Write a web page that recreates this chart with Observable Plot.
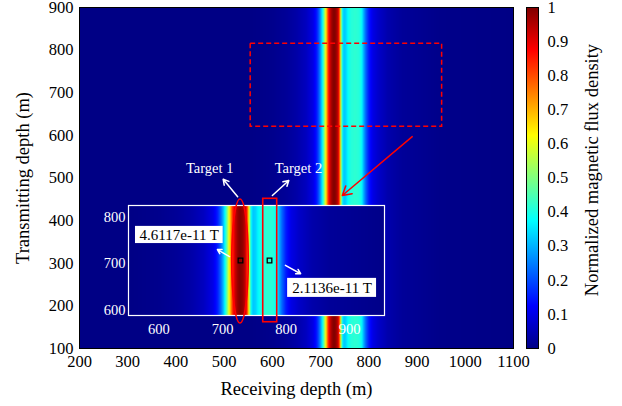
<!DOCTYPE html>
<html><head><meta charset="utf-8">
<script src="https://cdn.jsdelivr.net/npm/d3@7"></script>
<script src="https://cdn.jsdelivr.net/npm/@observablehq/plot@0.6"></script>
<style>
body{margin:0;background:#fff;}
#wrap{position:relative;width:622px;height:406px;}
#wrap svg{position:absolute;left:0;top:0;overflow:visible;}
</style></head><body><div id="wrap"></div>
<script>
// ---- data ----
const receivingDepth = [200, 550, 600, 630, 650, 670, 685, 692, 697, 701, 704, 707, 710, 713, 716, 720, 724, 728, 732, 736, 739, 741, 743, 745, 748, 752, 757, 763, 772, 780, 785, 789, 794, 800, 808, 820, 840, 870, 950, 1100];
const fluxProfile   = [0.0, 0.0, 0.008, 0.02, 0.035, 0.06, 0.10, 0.15, 0.22, 0.30, 0.38, 0.48, 0.60, 0.72, 0.84, 0.93, 0.98, 1.0, 0.98, 0.93, 0.82, 0.66, 0.50, 0.38, 0.32, 0.33, 0.38, 0.41, 0.42, 0.41, 0.38, 0.30, 0.22, 0.15, 0.10, 0.07, 0.04, 0.02, 0.005, 0.0];
const transmittingRows = [100, 900];
const xTicks = [200, 300, 400, 500, 600, 700, 800, 900, 1000, 1100];
const yTicks = [100, 200, 300, 400, 500, 600, 700, 800, 900];
const cbTicks = [0, 0.1, 0.2, 0.3, 0.4, 0.5, 0.6, 0.7, 0.8, 0.9, 1];
const jetStops = [0, 0.125, 0.375, 0.625, 0.875, 1];
const jetColors = ["#000085", "#0000ff", "#00ffff", "#ffff00", "#ff0000", "#800000"];
const insetXDomain = [552, 955];
const insetYDomain = [588, 825];
const insetXTicks = [600, 700, 800, 900];
const insetYTicks = [600, 700, 800];
// annotations (main coordinates)
const dashedBoxX = [555, 952];
const dashedBoxY = [620, 815];
const redArrowFrom = [890, 597];
const redArrowTo = [745, 459];
const targetNames = ["Target 1", "Target 2"];
const targetTextX = [470, 654];
const targetTextY = [522, 522];
const targetArrowFromX = [528, 600];
const targetArrowFromY = [456, 459];
const targetArrowToX = [498, 634];
const targetArrowToY = [497, 494];
// annotations (inset coordinates)
const ellipseC = [728.3, 704.3];
const ellipseR = [13, 133.6];
const target2BoxX = [764.1, 786.1];
const target2BoxY = [573.5, 839.4];
const probeX = [728.3, 774];
const probeY = [706.5, 706.5];
const valueLabels = ["4.6117e-11 T", "2.1136e-11 T"];
const valueBoxX1 = [563, 802.5];
const valueBoxX2 = [701, 942.5];
const valueBoxY1 = [743, 627];
const valueBoxY2 = [780, 668];
const valueArrowFromX = [711, 799];
const valueArrowFromY = [715, 696];
const valueArrowToX = [692, 823];
const valueArrowToY = [730, 678];
const xLabel = "Receiving depth (m)";
const yLabel = "Transmitting depth (m)";
const cbLabel = "Normalized magnetic flux density";

const FONT = "'Liberation Serif', serif";
const grid = transmittingRows.flatMap(t => receivingDepth.map((r, i) => ({r, t, v: fluxProfile[i]})));
const color = {type: "linear", domain: jetStops, range: jetColors, interpolate: "rgb"};
const wrap = document.getElementById("wrap");
function finish(svg, size) {
  svg.setAttribute("font-family", FONT);
  svg.setAttribute("font-size", size);
  svg.style.fontFamily = FONT;
  svg.style.background = "transparent";
  d3.select(svg).selectAll("text").style("font-family", FONT);
  wrap.appendChild(svg);
}

const main = Plot.plot({
  width: 622, height: 406, marginLeft: 79, marginRight: 109, marginTop: 7, marginBottom: 58,
  x: {domain: [200, 1100], ticks: xTicks, tickSize: 0, tickPadding: 7, tickFormat: "d", label: null},
  y: {domain: [100, 900], ticks: yTicks, tickSize: 0, tickPadding: 6, tickFormat: "d", label: null},
  color,
  marks: [
    Plot.raster(grid, {x: "r", y: "t", fill: "v", interpolate: "barycentric"}),
    Plot.frame({stroke: "#000", strokeWidth: 1}),
    Plot.axisX({ticks: xTicks, tickSize: 0, tickPadding: 7, tickFormat: "d", label: null, fontSize: 16.5, fill: "#000"}),
    Plot.axisY({ticks: yTicks, tickSize: 0, tickPadding: 6, tickFormat: "d", label: null, fontSize: 16.5, fill: "#000"}),
    Plot.rect([0], {x1: () => dashedBoxX[0], x2: () => dashedBoxX[1], y1: () => dashedBoxY[0], y2: () => dashedBoxY[1],
      fill: "none", stroke: "#ff0000", strokeWidth: 1.5, strokeDasharray: "5,3"}),
    Plot.arrow([0], {x1: () => redArrowFrom[0], y1: () => redArrowFrom[1], x2: () => redArrowTo[0], y2: () => redArrowTo[1],
      stroke: "#ff0000", strokeWidth: 1.5, headLength: 10}),
    Plot.arrow(targetNames, {x1: (d, i) => targetArrowFromX[i], y1: (d, i) => targetArrowFromY[i], x2: (d, i) => targetArrowToX[i], y2: (d, i) => targetArrowToY[i],
      stroke: "#ffffff", strokeWidth: 1.5, headLength: 6}),
    Plot.text(targetNames, {x: (d, i) => targetTextX[i], y: (d, i) => targetTextY[i], text: d => d, fill: "#ffffff", fontSize: 14.5}),
    Plot.text([xLabel], {frameAnchor: "bottom", textAnchor: "middle", lineAnchor: "middle", dy: 41, fontSize: 18.5, fill: "#000"}),
    Plot.text([yLabel], {frameAnchor: "left", textAnchor: "middle", lineAnchor: "middle", dx: -56, rotate: -90, fontSize: 18.5, fill: "#000"})
  ]
});
finish(main, 16.5);

const inset = Plot.plot({
  width: 622, height: 406, marginLeft: 128, marginRight: 238, marginTop: 205, marginBottom: 91,
  x: {domain: insetXDomain, label: null},
  y: {domain: insetYDomain, label: null},
  color,
  marks: [
    Plot.raster(grid, {x: "r", y: "t", fill: "v", interpolate: "barycentric"}),
    Plot.frame({stroke: "#ffffff", strokeWidth: 1.2}),
    Plot.axisX({ticks: insetXTicks, tickSize: 0, tickPadding: 8, tickFormat: "d", label: null, fontSize: 14.5, fill: "#ffffff"}),
    Plot.axisY({ticks: insetYTicks, tickSize: 0, tickPadding: 3, tickFormat: "d", label: null, fontSize: 14.5, fill: "#ffffff"}),
    Plot.rect(valueLabels, {x1: (d, i) => valueBoxX1[i], x2: (d, i) => valueBoxX2[i], y1: (d, i) => valueBoxY1[i], y2: (d, i) => valueBoxY2[i], fill: "#ffffff"}),
    Plot.text(valueLabels, {x: (d, i) => (valueBoxX1[i] + valueBoxX2[i]) / 2, y: (d, i) => (valueBoxY1[i] + valueBoxY2[i]) / 2, text: d => d, fill: "#000", fontSize: 15}),
    Plot.arrow(valueLabels, {x1: (d, i) => valueArrowFromX[i], y1: (d, i) => valueArrowFromY[i], x2: (d, i) => valueArrowToX[i], y2: (d, i) => valueArrowToY[i],
      stroke: "#ffffff", strokeWidth: 1.5, headLength: 5}),
    Plot.rect([0], {x1: () => target2BoxX[0], x2: () => target2BoxX[1], y1: () => target2BoxY[0], y2: () => target2BoxY[1],
      fill: "none", stroke: "#ff0000", strokeWidth: 1.6}),
    Plot.dot(probeX, {x: d => d, y: (d, i) => probeY[i], symbol: "square", r: 2.6, stroke: "#000", strokeWidth: 1.3, fill: "none"})
  ]
});
const sx = inset.scale("x"), sy = inset.scale("y");
d3.select(inset).append("ellipse")
  .attr("cx", sx.apply(ellipseC[0])).attr("cy", sy.apply(ellipseC[1]))
  .attr("rx", sx.apply(ellipseC[0] + ellipseR[0]) - sx.apply(ellipseC[0]))
  .attr("ry", sy.apply(ellipseC[1]) - sy.apply(ellipseC[1] + ellipseR[1]))
  .attr("fill", "none").attr("stroke", "#ff0000").attr("stroke-width", 1.6);
finish(inset, 14.5);

const cbGrid = [0, 1].flatMap(c => jetStops.map(s => ({c, s})));
const cbar = Plot.plot({
  width: 622, height: 406, marginLeft: 526, marginRight: 84, marginTop: 7, marginBottom: 58,
  x: {domain: [0, 1], axis: null},
  y: {domain: [0, 1], axis: null},
  color,
  marks: [
    Plot.raster(cbGrid, {x: "c", y: "s", fill: "s", interpolate: "barycentric"}),
    Plot.frame({stroke: "#000"}),
    Plot.axisY({anchor: "right", ticks: cbTicks, tickSize: 0, tickPadding: 9, label: null, fontSize: 16.5, fill: "#000",
      tickFormat: d => (d === 0 ? "0" : d === 1 ? "1" : d3.format(".1f")(d))}),
    Plot.text([cbLabel], {frameAnchor: "right", textAnchor: "middle", lineAnchor: "middle", dx: 54, dy: -8, rotate: -90, fontSize: 18.5, fill: "#000"})
  ]
});
finish(cbar, 16.5);
</script></body></html>
